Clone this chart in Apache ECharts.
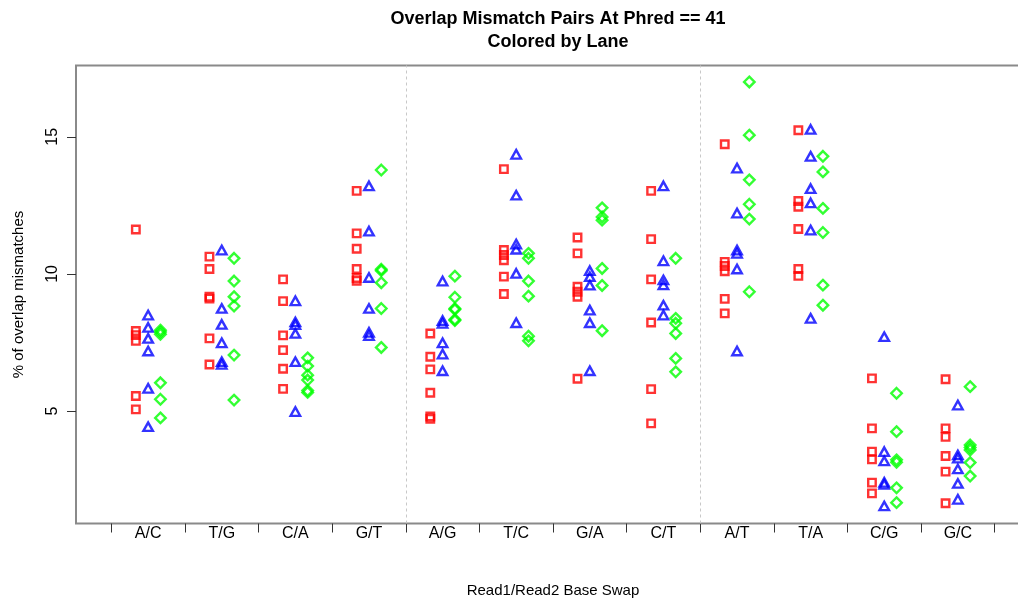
<!DOCTYPE html>
<html>
<head>
<meta charset="utf-8">
<title>Overlap Mismatch Pairs At Phred == 41</title>
<script src="https://cdn.jsdelivr.net/npm/echarts@6/dist/echarts.min.js"></script>
<style>
  html, body { margin: 0; padding: 0; background: #ffffff; overflow: hidden; }
  /* the plot box runs a little past the right edge of the window */
  #chart { width: 1030px; height: 598px; }
</style>
</head>
<body>
<div id="chart"></div>
<script>
// Read1/Read2 base swaps, six samples per lane
const categories = ['A/C', 'T/G', 'C/A', 'G/T', 'A/G', 'T/C', 'G/A', 'C/T', 'A/T', 'T/A', 'C/G', 'G/C'];

// Lane 1 (red squares)
const lane1 = [
  [11.62, 7.92, 7.77, 7.56, 5.55, 5.06],
  [10.63, 10.18, 9.17, 9.10, 7.65, 6.70],
  [9.80, 9.01, 7.76, 7.22, 6.54, 5.81],
  [13.03, 11.48, 10.92, 10.18, 9.85, 9.75],
  [7.83, 6.98, 6.52, 5.67, 4.80, 4.72],
  [13.82, 10.87, 10.69, 10.50, 9.90, 9.27],
  [11.33, 10.75, 9.53, 9.35, 9.17, 6.18],
  [13.03, 11.27, 9.80, 8.23, 5.80, 4.55],
  [14.73, 10.44, 10.29, 10.10, 9.09, 8.56],
  [15.24, 12.66, 12.45, 11.64, 10.18, 9.93],
  [6.19, 4.37, 3.52, 3.24, 2.39, 2.00],
  [6.16, 4.37, 4.06, 3.36, 2.79, 1.64]
];

// Lane 2 (blue triangles)
const lane2 = [
  [8.50, 8.05, 7.65, 7.19, 5.83, 4.43],
  [10.87, 8.74, 8.16, 7.49, 6.80, 6.70],
  [9.02, 8.25, 8.15, 7.83, 6.80, 4.98],
  [13.21, 11.56, 9.87, 8.74, 7.87, 7.75],
  [9.74, 8.30, 8.20, 7.49, 7.08, 6.47],
  [14.36, 12.87, 11.09, 10.90, 10.02, 8.22],
  [10.12, 9.90, 9.59, 8.68, 8.22, 6.47],
  [13.21, 10.48, 9.78, 9.60, 8.86, 8.50],
  [13.86, 12.22, 10.87, 10.75, 10.18, 7.19],
  [15.27, 14.29, 13.11, 12.59, 11.60, 8.38],
  [7.71, 3.52, 3.18, 2.40, 2.33, 1.54],
  [5.22, 3.40, 3.28, 2.89, 2.36, 1.78]
];

// Lane 3 (green diamonds)
const lane3 = [
  [7.95, 7.88, 7.80, 6.03, 5.43, 4.75],
  [10.57, 9.74, 9.17, 8.83, 7.04, 5.40],
  [6.94, 6.64, 6.31, 6.13, 5.75, 5.68],
  [13.79, 10.17, 10.12, 9.68, 8.74, 7.32],
  [9.92, 9.15, 8.74, 8.70, 8.34, 8.30],
  [10.75, 10.57, 9.74, 9.19, 7.73, 7.56],
  [12.41, 12.08, 11.96, 10.20, 9.58, 7.93],
  [10.57, 8.38, 8.20, 7.83, 6.92, 6.43],
  [17.00, 15.06, 13.43, 12.54, 12.00, 9.35],
  [14.29, 13.72, 12.39, 11.51, 9.59, 8.86],
  [5.65, 4.25, 3.22, 3.13, 2.20, 1.66],
  [5.89, 3.76, 3.67, 3.58, 3.12, 2.63]
];

const yTicks = [5, 10, 15];
// group separators between swap families
const separators = [4.5, 8.5];

// horizontal spread of the three lanes inside a category
const laneOffset = [-0.167, 0, 0.167];

const FONT = '"Liberation Sans", Arial, Helvetica, sans-serif';

function toPoints(lane, offset) {
  const pts = [];
  lane.forEach(function (vals, i) {
    vals.forEach(function (v) { pts.push([i + 1 + offset, v]); });
  });
  return pts;
}

const catPositions = categories.map(function (_, i) { return i + 1; });
const tickPositions = [];
for (let i = 0; i <= categories.length; i++) tickPositions.push(i + 0.5);

const chart = echarts.init(document.getElementById('chart'), null, { renderer: 'canvas' });

chart.setOption({
  animation: false,
  backgroundColor: '#ffffff',
  title: {
    text: 'Overlap Mismatch Pairs At Phred == 41\nColored by Lane',
    left: 553,
    top: 3,
    textAlign: 'center',
    textStyle: {
      fontFamily: FONT,
      fontSize: 18,
      fontWeight: 'bold',
      color: '#000000',
      lineHeight: 23
    }
  },
  grid: {
    left: 76,
    top: 65.5,
    right: 0,
    bottom: 74.5,
    outerBoundsMode: 'none',
    containLabel: false,
    show: true,
    borderColor: '#8a8a8a',
    borderWidth: 2,
    backgroundColor: 'transparent'
  },
  xAxis: {
    type: 'value',
    min: 0.02,
    max: 12.98,
    name: 'Read1/Read2 Base Swap',
    nameLocation: 'middle',
    nameGap: 60,
    nameTextStyle: { fontFamily: FONT, fontSize: 15, color: '#000000' },
    axisLine: { show: false },
    splitLine: { show: false },
    axisTick: {
      show: true,
      length: 9,
      customValues: tickPositions,
      lineStyle: { color: '#333333', width: 1 }
    },
    axisLabel: {
      customValues: catPositions,
      margin: 2,
      fontFamily: FONT,
      fontSize: 16,
      color: '#000000',
      formatter: function (v) { return categories[Math.round(v) - 1]; }
    }
  },
  yAxis: {
    type: 'value',
    min: 0.9,
    max: 17.6,
    name: '% of overlap mismatches',
    nameLocation: 'middle',
    nameGap: 50,
    nameRotate: 90,
    nameTextStyle: { fontFamily: FONT, fontSize: 15, color: '#000000' },
    axisLine: { show: false },
    splitLine: { show: false },
    axisTick: {
      show: true,
      length: 9,
      customValues: yTicks,
      lineStyle: { color: '#333333', width: 1 }
    },
    axisLabel: {
      customValues: yTicks,
      rotate: 90,
      margin: 15,
      fontFamily: FONT,
      fontSize: 16,
      color: '#000000'
    }
  },
  series: [
    {
      name: 'Lane 1',
      type: 'scatter',
      symbol: 'rect',
      symbolSize: 7.5,
      itemStyle: { color: 'rgba(0,0,0,0)', borderColor: '#ff0000', borderWidth: 2.4 },
      data: toPoints(lane1, laneOffset[0]),
      markLine: {
        silent: true,
        symbol: 'none',
        label: { show: false },
        lineStyle: { color: '#c8c8c8', type: [3, 3], width: 1 },
        data: separators.map(function (x) { return { xAxis: x }; })
      },
      z: 2
    },
    {
      name: 'Lane 2',
      type: 'scatter',
      symbol: 'triangle',
      symbolSize: [9.5, 8.5],
      itemStyle: { color: 'rgba(0,0,0,0)', borderColor: '#0000ff', borderWidth: 2.4 },
      data: toPoints(lane2, laneOffset[1]),
      z: 3
    },
    {
      name: 'Lane 3',
      type: 'scatter',
      symbol: 'diamond',
      symbolSize: [10.5, 10.5],
      itemStyle: { color: 'rgba(0,0,0,0)', borderColor: '#00ff00', borderWidth: 2.4 },
      data: toPoints(lane3, laneOffset[2]),
      z: 4
    }
  ]
});
</script>
</body>
</html>
